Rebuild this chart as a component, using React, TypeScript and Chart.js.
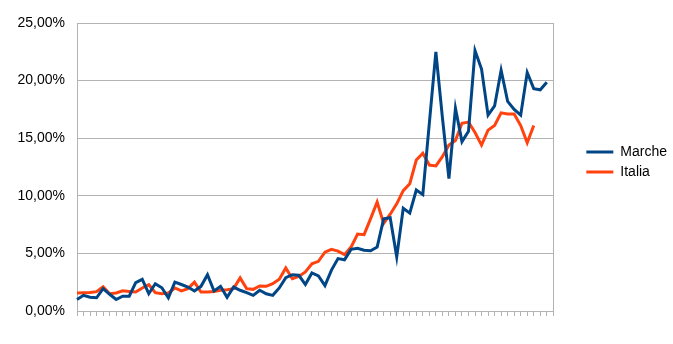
import React, { useEffect, useRef } from 'react';
import { Chart, registerables } from 'chart.js';

Chart.register(...registerables);

const categories = [
  '1', '2', '3', '4', '5', '6', '7', '8', '9', '10',
  '11', '12', '13', '14', '15', '16', '17', '18', '19', '20',
  '21', '22', '23', '24', '25', '26', '27', '28', '29', '30',
  '31', '32', '33', '34', '35', '36', '37', '38', '39', '40',
  '41', '42', '43', '44', '45', '46', '47', '48', '49', '50',
  '51', '52', '53', '54', '55', '56', '57', '58', '59', '60',
  '61', '62', '63', '64', '65', '66', '67', '68', '69', '70',
  '71', '72', '73', '74',
];

const marche = [
  1.0, 1.36, 1.2, 1.15, 1.94, 1.45, 1.0, 1.28, 1.28, 2.46,
  2.75, 1.5, 2.37, 2.02, 1.15, 2.5, 2.3, 2.08, 1.74, 2.14,
  3.15, 1.74, 2.14, 1.19, 2.08, 1.8, 1.59, 1.36, 1.8, 1.5,
  1.36, 2.0, 2.9, 3.15, 3.1, 2.3, 3.3, 3.05, 2.2, 3.55,
  4.55, 4.45, 5.35, 5.45, 5.28, 5.23, 5.55, 8.0, 8.1, 4.7,
  8.92, 8.5, 10.5, 10.1, 16.3, 22.5, 16.8, 11.5, 17.6, 14.7,
  15.6, 22.6, 21.0, 17.0, 17.8, 20.9, 18.2, 17.5, 17.0, 20.7,
  19.3, 19.2, 19.85,
];

const italia = [
  1.56, 1.58, 1.6, 1.68, 2.1, 1.5, 1.56, 1.76, 1.7, 1.65,
  2.0, 2.28, 1.59, 1.5, 1.56, 2.0, 1.74, 1.94, 2.5, 1.65,
  1.65, 1.7, 1.8, 1.85, 1.94, 2.87, 1.94, 1.88, 2.17, 2.14,
  2.37, 2.75, 3.73, 2.8, 3.0, 3.39, 4.1, 4.31, 5.1, 5.35,
  5.2, 4.89, 5.55, 6.68, 6.63, 8.02, 9.46, 7.6, 8.4, 9.3,
  10.45, 11.05, 13.1, 13.7, 12.67, 12.59, 13.4, 14.4, 14.8, 16.3,
  16.4, 15.5, 14.4, 15.7, 16.1, 17.2, 17.1, 17.1, 16.1, 14.6,
  16.1,
];

const seriesNames = ['Marche', 'Italia'];
const seriesColors = ['#004586', '#ff420e'];
const yMin = 0;
const yMax = 25;
const yStep = 5;

const FONT = 'Liberation Sans, Arial, sans-serif';
const GRID = '#b3b3b3';

export default function App() {
  const ref = useRef<HTMLCanvasElement>(null);

  useEffect(() => {
    const canvas = ref.current;
    if (!canvas) return;
    const chart = new Chart(canvas, {
      type: 'line',
      data: {
        labels: categories,
        datasets: [
          {
            label: seriesNames[0],
            data: marche,
            borderColor: seriesColors[0],
            backgroundColor: seriesColors[0],
            borderWidth: 3,
            pointRadius: 0,
            tension: 0,
            fill: false,
          },
          {
            label: seriesNames[1],
            data: italia,
            borderColor: seriesColors[1],
            backgroundColor: seriesColors[1],
            borderWidth: 3,
            pointRadius: 0,
            tension: 0,
            fill: false,
          },
        ],
      },
      options: {
        responsive: false,
        animation: false,
        events: [],
        layout: { padding: { left: 0, right: -4, top: 8, bottom: 28 } },
        scales: {
          x: {
            type: 'category',
            position: 'bottom',
            offset: false,
            grid: {
              display: true,
              drawOnChartArea: false,
              drawTicks: true,
              tickLength: 5,
              color: GRID,
            },
            border: { display: true, color: GRID },
            ticks: { display: false },
            afterFit: (s: any) => {
              s.height = 5;
            },
          },
          x2: {
            type: 'category',
            position: 'top',
            grid: { display: false },
            ticks: { display: false },
            border: { display: true, color: GRID },
            afterFit: (s: any) => {
              s.height = 15;
            },
          },
          y: {
            min: yMin,
            max: yMax,
            ticks: {
              stepSize: yStep,
              padding: 12,
              color: '#000',
              font: { family: FONT, size: 14 },
              callback: (v: any) => Number(v).toFixed(2).replace('.', ',') + '%',
            },
            grid: { color: GRID, drawTicks: false },
            border: { display: true, color: GRID },
            afterFit: (s: any) => {
              s.width = 77;
            },
          },
          y2: {
            position: 'right',
            grid: { display: false },
            ticks: { display: false },
            border: { display: true, color: GRID },
            afterFit: (s: any) => {
              s.width = 27;
            },
          },
        },
        plugins: {
          legend: {
            position: 'right',
            align: 'center',
            labels: {
              boxWidth: 27,
              boxHeight: 3,
              padding: 6,
              color: '#000',
              font: { family: FONT, size: 14 },
              generateLabels: (c: any) =>
                (Chart.defaults.plugins.legend.labels.generateLabels as any)(c).map((l: any) => ({
                  ...l,
                  lineWidth: 0,
                })),
            },
          },
          tooltip: { enabled: false },
        },
      },
    } as any);
    return () => chart.destroy();
  }, []);

  return (
    <div style={{ position: 'absolute', left: 0, top: 0, width: 673, height: 344 }}>
      <canvas ref={ref} width={673} height={344} style={{ display: 'block' }} />
    </div>
  );
}
